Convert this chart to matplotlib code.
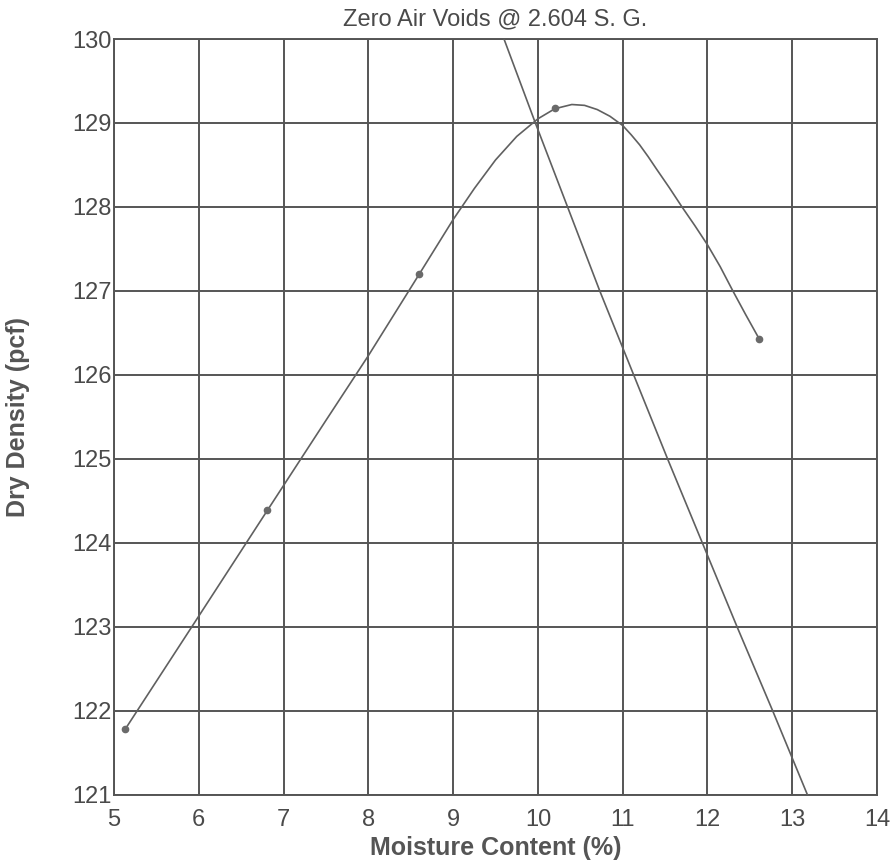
import matplotlib
matplotlib.use("Agg")
import matplotlib.pyplot as plt


# measured proctor points (moisture %, dry density pcf)
moisture = [5.13, 6.81, 8.60, 10.20, 12.61]
density = [121.78, 124.39, 127.20, 129.18, 126.43]

# hand-drawn compaction curve
curve_w = [5.13, 6.0, 6.81, 7.5, 8.0, 8.6, 9.0, 9.25, 9.5, 9.75, 10.0, 10.2,
           10.4, 10.55, 10.7, 10.85, 11.0, 11.1, 11.2, 11.3, 11.4, 11.55,
           11.7, 11.85, 12.0, 12.15, 12.3, 12.45, 12.61]
curve_d = [121.78, 123.13, 124.39, 125.46, 126.23, 127.2, 127.85, 128.22,
           128.56, 128.84, 129.05, 129.17, 129.22, 129.21, 129.16, 129.08,
           128.97, 128.86, 128.74, 128.60, 128.45, 128.23, 128.0, 127.78,
           127.55, 127.29, 127.0, 126.72, 126.43]

# zero air voids line
zav_w = [9.60, 9.97, 10.35, 10.73, 11.13, 11.53, 11.94, 12.35, 12.77, 13.18]
zav_d = [130, 129, 128, 127, 126, 125, 124, 123, 122, 121]

x_ticks = [5, 6, 7, 8, 9, 10, 11, 12, 13, 14]
y_ticks = [121, 122, 123, 124, 125, 126, 127, 128, 129, 130]

plt.rcParams['font.family'] = ['Liberation Sans', 'DejaVu Sans']

ink = '#4a4a4a'
line_col = '#606060'

fig = plt.figure(figsize=(8.93, 8.61), dpi=100)
ax = fig.add_axes([0.1277, 0.0767, 0.8544, 0.878])

ax.plot(curve_w, curve_d, color=line_col, lw=1.2, zorder=3)
ax.plot(moisture, density, 'o', color='#6a6a6a', ms=4.5, zorder=4)
ax.plot(zav_w, zav_d, color=line_col, lw=1.2, zorder=3)

ax.set_xlim(5, 14)
ax.set_ylim(121, 130)
ax.set_xticks(x_ticks)
ax.set_yticks(y_ticks)
ax.grid(True, color='#555555', lw=1.4)
ax.set_axisbelow(True)
for s in ax.spines.values():
    s.set_color('#555555')
    s.set_linewidth(1.4)

ax.tick_params(length=0, labelsize=17, labelcolor=ink)
ax.tick_params(axis='x', pad=10)
ax.tick_params(axis='y', pad=2)

ax.set_title('Zero Air Voids @ 2.604 S. G.', fontsize=17, color=ink, pad=10)
ax.set_xlabel('Moisture Content (%)', fontweight='bold',
              fontsize=18, color='#555555', labelpad=4)
ax.set_ylabel('Dry Density (pcf)', fontweight='bold',
              fontsize=18, color='#555555', labelpad=30)

fig.savefig('out.png', dpi=100)
